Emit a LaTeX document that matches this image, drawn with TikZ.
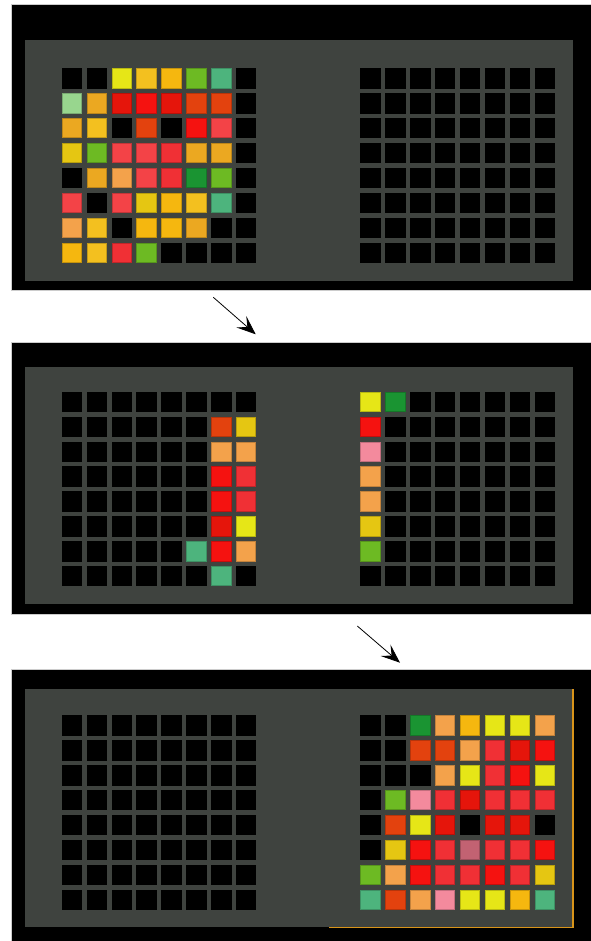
\documentclass[tikz,border=0pt]{standalone}
\usetikzlibrary{arrows.meta}
\definecolor{cK}{HTML}{000000}
\definecolor{cY}{HTML}{E6E617}
\definecolor{cM}{HTML}{E5C612}
\definecolor{cA}{HTML}{F3C01F}
\definecolor{cG}{HTML}{F5B70F}
\definecolor{cO}{HTML}{EBA821}
\definecolor{cL}{HTML}{F3A24B}
\definecolor{cR}{HTML}{E3420E}
\definecolor{cD}{HTML}{E5150B}
\definecolor{cB}{HTML}{F51210}
\definecolor{cC}{HTML}{F03035}
\definecolor{cP}{HTML}{F34347}
\definecolor{cN}{HTML}{6DBA23}
\definecolor{cE}{HTML}{1A9432}
\definecolor{cT}{HTML}{4DB47D}
\definecolor{cH}{HTML}{98D68E}
\definecolor{cI}{HTML}{F38A9D}
\definecolor{cV}{HTML}{C26272}
\definecolor{boardgray}{HTML}{3F433F}
\definecolor{edgeorange}{HTML}{D8941A}
\tikzset{
  cell/.style={rectangle, minimum size=19.4pt, inner sep=0pt, anchor=north west, line width=0.6pt},
  frame/.style={fill=black, draw=black!20, line width=0.5pt},
  board/.style={fill=boardgray},
  flow/.style={line width=0.8pt, -{Stealth[length=19pt,width=15pt,inset=8pt]}},
}
\newcommand\drawgrid[4]{%
  \foreach \rowlist [count=\r] in {#4} {
    \foreach \cc [count=\j] in \rowlist {
      \node[cell, fill=c\cc, draw=c\cc!80!black] (#1-\r-\j) at ({#2+(\j-1)*24.9},{#3+(\r-1)*24.9}) {};
    }
  }
}
\begin{document}
\begin{tikzpicture}[x=1pt,y=-1pt]
\useasboundingbox (0,0) rectangle (590,941);
% panel 1
\path[frame] (11,4) rectangle (592,290);
\path[board] (24.5,40) rectangle (573,281);
% panel 2
\path[frame] (11,342.3) rectangle (592,614);
\path[board] (24.5,367.3) rectangle (573,604.3);
% panel 3
\path[frame] (11,669.3) rectangle (592,943);
\path[board] (24.5,689) rectangle (573,927.3);
\draw[edgeorange, line width=1.1pt] (573,689) -- (573,927.3) -- (329,927.3);

% grids
\drawgrid{aL}{61.7}{68.3}{{K,K,Y,A,G,N,T,K},{H,O,D,B,D,R,R,K},{O,A,K,R,K,B,P,K},{M,N,P,P,C,O,O,K},{K,O,L,P,C,E,N,K},{P,K,P,M,G,A,T,K},{L,A,K,G,G,O,K,K},{G,A,C,N,K,K,K,K}}
\drawgrid{aR}{360.3}{68.3}{{K,K,K,K,K,K,K,K},{K,K,K,K,K,K,K,K},{K,K,K,K,K,K,K,K},{K,K,K,K,K,K,K,K},{K,K,K,K,K,K,K,K},{K,K,K,K,K,K,K,K},{K,K,K,K,K,K,K,K},{K,K,K,K,K,K,K,K}}
\drawgrid{bL}{61.7}{391.7}{{K,K,K,K,K,K,K,K},{K,K,K,K,K,K,R,M},{K,K,K,K,K,K,L,L},{K,K,K,K,K,K,B,C},{K,K,K,K,K,K,B,C},{K,K,K,K,K,K,D,Y},{K,K,K,K,K,T,B,L},{K,K,K,K,K,K,T,K}}
\drawgrid{bR}{360.3}{391.7}{{Y,E,K,K,K,K,K,K},{B,K,K,K,K,K,K,K},{I,K,K,K,K,K,K,K},{L,K,K,K,K,K,K,K},{L,K,K,K,K,K,K,K},{M,K,K,K,K,K,K,K},{N,K,K,K,K,K,K,K},{K,K,K,K,K,K,K,K}}
\drawgrid{cL}{61.7}{715.3}{{K,K,K,K,K,K,K,K},{K,K,K,K,K,K,K,K},{K,K,K,K,K,K,K,K},{K,K,K,K,K,K,K,K},{K,K,K,K,K,K,K,K},{K,K,K,K,K,K,K,K},{K,K,K,K,K,K,K,K},{K,K,K,K,K,K,K,K}}
\drawgrid{cR}{360.3}{715.3}{{K,K,E,L,G,Y,Y,L},{K,K,R,R,L,C,D,B},{K,K,K,L,Y,C,B,Y},{K,N,I,C,D,C,C,C},{K,R,Y,D,K,D,D,K},{K,M,B,C,V,C,C,B},{N,L,B,C,C,B,C,M},{T,R,L,I,Y,Y,G,T}}

% arrows
\coordinate (s1) at (213.3,297.3);
\coordinate (e1) at (255.7,334.3);
\coordinate (s2) at (357.3,626);
\coordinate (e2) at (400,662.7);
\draw[flow] (s1) -- (e1);
\draw[flow] (s2) -- (e2);
\end{tikzpicture}
\end{document}
